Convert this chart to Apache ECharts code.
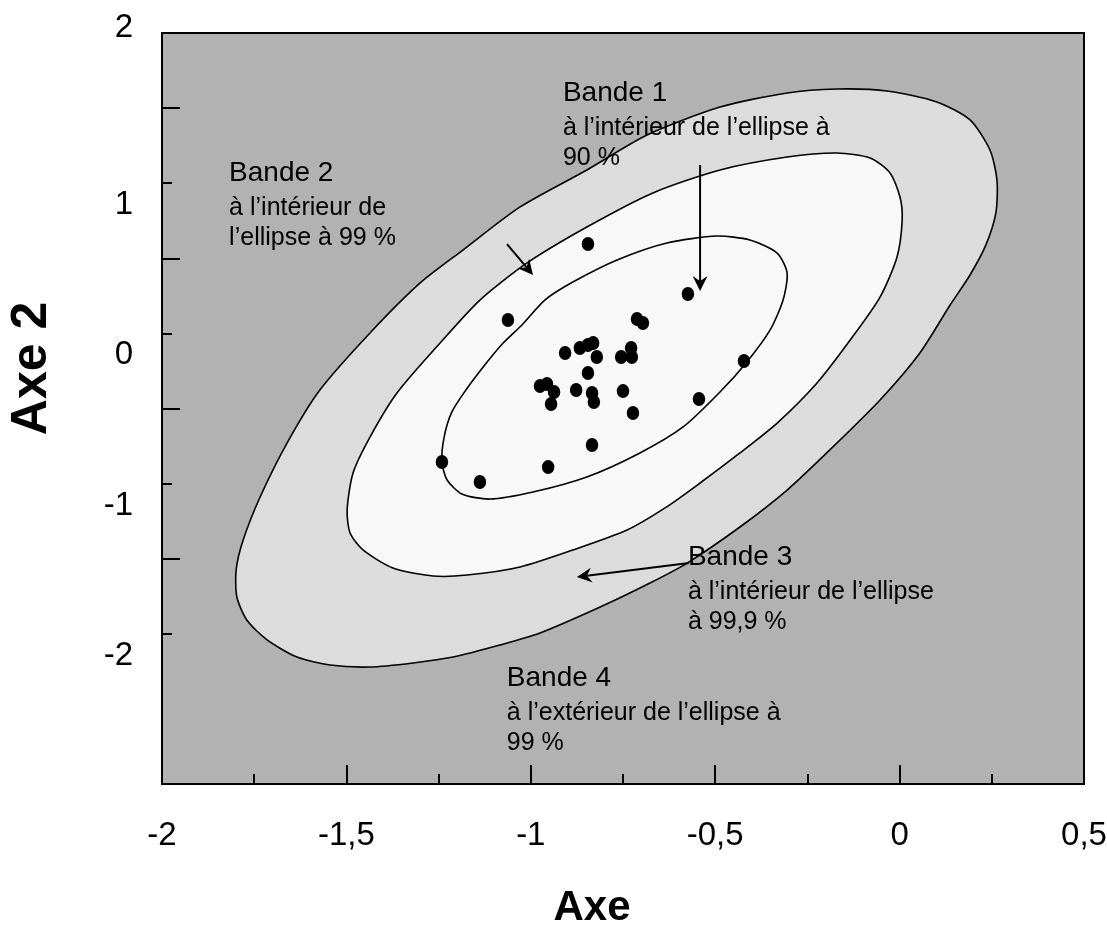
<!DOCTYPE html>
<html><head><meta charset="utf-8">
<script src="https://cdn.jsdelivr.net/npm/echarts@6/dist/echarts.min.js"></script>
<style>html,body{margin:0;padding:0;background:#fff}#c{width:1107px;height:927px}</style>
</head><body><div id="c"></div>
<script>
// ---- data ----
const xLabelValues = [-2, -1.5, -1, -0.5, 0, 0.5];
const yLabelValues = [1, 0, -1, -2];
const yTopLabelValues = [2];
const yShortTicks = [-2, -1, 0, 1];
const yLongTicks = [-1.5, -0.5, 0.5, 1.5];

const pointsX = [-0.845,-0.574,-1.062,-0.712,-0.696,-0.907,-0.867,-0.845,-0.831,-0.821,-0.728,-0.755,-0.726,-0.845,-0.975,-0.956,-0.937,-0.945,-0.877,-0.834,-0.829,-0.750,-0.723,-0.544,-0.422,-0.834,-0.953,-1.241,-1.138];
const pointsY = [0.595,0.262,0.089,0.096,0.069,-0.130,-0.097,-0.077,-0.064,-0.157,-0.097,-0.157,-0.157,-0.264,-0.350,-0.337,-0.390,-0.470,-0.377,-0.397,-0.457,-0.384,-0.530,-0.437,-0.184,-0.743,-0.890,-0.856,-0.989];

// ellipse 90 % (band 1 boundary)
const innerX = [-1.241,-1.235,-1.214,-1.176,-1.127,-1.075,-1.024,-0.962,-0.886,-0.766,-0.631,-0.495,-0.406,-0.332,-0.305,-0.316,-0.351,-0.414,-0.487,-0.587,-0.704,-0.848,-0.994,-1.111,-1.187,-1.227];
const innerY = [-0.856,-0.690,-0.523,-0.377,-0.217,-0.064,0.056,0.222,0.342,0.489,0.602,0.648,0.622,0.535,0.402,0.222,0.023,-0.190,-0.390,-0.623,-0.796,-0.956,-1.056,-1.103,-1.069,-0.976];
// ellipse 99 % (band 2 boundary)
const middleX = [-1.498,-1.482,-1.436,-1.363,-1.246,-1.138,-1.010,-0.848,-0.669,-0.487,-0.305,-0.170,-0.080,-0.026,0.001,0.007,-0.007,-0.053,-0.134,-0.224,-0.332,-0.433,-0.541,-0.636,-0.739,-0.886,-1.029,-1.173,-1.265,-1.374,-1.455,-1.490];
const middleY = [-1.176,-0.929,-0.690,-0.397,-0.064,0.222,0.469,0.708,0.935,1.088,1.174,1.201,1.168,1.068,0.908,0.755,0.509,0.242,-0.044,-0.330,-0.597,-0.796,-0.996,-1.162,-1.309,-1.442,-1.555,-1.609,-1.615,-1.562,-1.442,-1.329];
// ellipse 99.9 % (band 3 boundary)
const outerX = [-1.799,-1.780,-1.734,-1.661,-1.572,-1.436,-1.300,-1.184,-1.029,-0.848,-0.685,-0.487,-0.305,-0.170,-0.034,0.101,0.191,0.245,0.264,0.261,0.234,0.191,0.137,0.055,-0.053,-0.181,-0.305,-0.433,-0.576,-0.677,-0.812,-0.975,-1.084,-1.211,-1.319,-1.436,-1.544,-1.634,-1.715,-1.770,-1.797];
const outerY = [-1.575,-1.376,-1.089,-0.730,-0.377,0.003,0.336,0.555,0.842,1.088,1.321,1.507,1.601,1.627,1.614,1.541,1.421,1.221,1.021,0.802,0.589,0.389,0.189,-0.130,-0.443,-0.756,-1.043,-1.289,-1.529,-1.662,-1.822,-1.995,-2.075,-2.155,-2.194,-2.221,-2.208,-2.155,-2.041,-1.908,-1.755];

// annotations (top-left anchor of each text block, in data units)
const annTitles = ['Bande 1', 'Bande 2', 'Bande 3', 'Bande 4'];
const annLines = [
  ['à l’intérieur de l’ellipse à', '90 %'],
  ['à l’intérieur de', 'l’ellipse à 99 %'],
  ['à l’intérieur de l’ellipse', 'à 99,9 %'],
  ['à l’extérieur de l’ellipse à', '99 %']
];
const annX = [-0.913, -1.818, -0.574, -1.065];
const annY = [1.734, 1.201, -1.356, -2.161];

// arrows (start -> tip)
const arrowX0 = [-0.541, -1.0645, -0.571];
const arrowY0 = [1.121, 0.595, -1.529];
const arrowX1 = [-0.541, -0.994, -0.875];
const arrowY1 = [0.282, 0.389, -1.622];

// ---- chart ----
const FONT = '"Liberation Sans", Arial, Helvetica, sans-serif';
const fmt = v => String(v).replace('.', ',');

function polygonSeries(name, xs, ys, fill, z) {
  return {
    type: 'custom', name: name, coordinateSystem: 'cartesian2d', z: z, silent: true, clip: false,
    xAxisIndex: 0, yAxisIndex: 0,
    data: [[xs[0], ys[0]]],
    renderItem: function (params, api) {
      return {
        type: 'polygon',
        shape: { points: xs.map((x, i) => api.coord([x, ys[i]])), smooth: 0.25 },
        style: { fill: fill, stroke: '#000', lineWidth: 1.6 }
      };
    }
  };
}

const chart = echarts.init(document.getElementById('c'), null, { renderer: 'canvas' });
const option = {
  animation: false,
  backgroundColor: '#ffffff',
  grid: { left: 162, top: 33, right: 23, bottom: 143, show: true, backgroundColor: '#b2b2b2', borderColor: '#000', borderWidth: 2, containLabel: false, outerBoundsMode: 'none' },
  xAxis: {
    type: 'value', min: -2, max: 0.5, interval: 0.5,
    name: 'Axe', nameLocation: 'middle', nameGap: 103,
    nameTextStyle: { fontFamily: FONT, fontSize: 42, fontWeight: 'bold', color: '#000', padding: [0, 62, 0, 0] },
    axisLine: { show: true, onZero: false, lineStyle: { color: '#000', width: 2 } },
    axisTick: { show: true, inside: true, length: 19, lineStyle: { color: '#000', width: 2 } },
    minorTick: { show: true, splitNumber: 2, length: 10, lineStyle: { color: '#000', width: 2 } },
    splitLine: { show: false }, minorSplitLine: { show: false },
    axisLabel: { customValues: xLabelValues, fontFamily: FONT, fontSize: 33, color: '#000', margin: 35, formatter: fmt }
  },
  yAxis: [
    {
      type: 'value', min: -3, max: 2, interval: 1,
      name: 'Axe 2', nameLocation: 'middle', nameGap: 105, nameRotate: 90,
      nameTextStyle: { fontFamily: FONT, fontSize: 50, fontWeight: 'bold', color: '#000', padding: [0, 0, 0, 80] },
      axisLine: { show: true, onZero: false, lineStyle: { color: '#000', width: 2 } },
      axisTick: { show: true, inside: true, length: 10, customValues: yShortTicks, lineStyle: { color: '#000', width: 2 } },
      splitLine: { show: false },
      axisLabel: { customValues: yLabelValues, fontFamily: FONT, fontSize: 33, color: '#000', margin: 29, verticalAlign: 'top', lineHeight: 44, formatter: fmt }
    },
    {
      type: 'value', min: -3, max: 2, interval: 1, position: 'left', offset: 0,
      axisLine: { show: false, onZero: false },
      axisTick: { show: true, inside: true, length: 18, customValues: yLongTicks, lineStyle: { color: '#000', width: 2 } },
      splitLine: { show: false },
      axisLabel: { customValues: yTopLabelValues, fontFamily: FONT, fontSize: 33, color: '#000', margin: 29, verticalAlign: 'bottom', lineHeight: 10, formatter: fmt }
    }
  ],
  series: [
    polygonSeries('ellipse 99,9 %', outerX, outerY, '#dcdcdc', 2),
    polygonSeries('ellipse 99 %', middleX, middleY, '#f8f8f8', 3),
    polygonSeries('ellipse 90 %', innerX, innerY, '#f8f8f8', 4),
    {
      type: 'scatter', name: 'points', z: 6, silent: true,
      symbol: 'circle', symbolSize: [12.5, 14],
      itemStyle: { color: '#000', opacity: 1 },
      data: pointsX.map((x, i) => [x, pointsY[i]])
    },
    {
      type: 'custom', name: 'annotations', coordinateSystem: 'cartesian2d', z: 7, silent: true, clip: false,
      data: annX.map((x, i) => [x, annY[i]]),
      renderItem: function (params, api) {
        const i = params.dataIndex;
        const p = api.coord([annX[i], annY[i]]);
        const txt = '{b|' + annTitles[i] + '}\n' + annLines[i].map(s => '{s|' + s + '}').join('\n');
        return {
          type: 'text', x: p[0], y: p[1],
          style: {
            text: txt, fill: '#000', align: 'left', verticalAlign: 'top',
            fontFamily: FONT,
            rich: {
              b: { fontFamily: FONT, fontSize: 28, lineHeight: 40, fill: '#000', color: '#000' },
              s: { fontFamily: FONT, fontSize: 25, lineHeight: 30, fill: '#000', color: '#000' }
            }
          }
        };
      }
    },
    {
      type: 'custom', name: 'arrows', coordinateSystem: 'cartesian2d', z: 8, silent: true, clip: false,
      data: arrowX0.map((x, i) => [x, arrowY0[i]]),
      renderItem: function (params, api) {
        const i = params.dataIndex;
        const a = api.coord([arrowX0[i], arrowY0[i]]);
        const b = api.coord([arrowX1[i], arrowY1[i]]);
        const dx = b[0] - a[0], dy = b[1] - a[1];
        const L = Math.sqrt(dx * dx + dy * dy);
        const ux = dx / L, uy = dy / L, nx = -uy, ny = ux;
        const len = 15, hw = 7.5, notch = 5;
        const base = [b[0] - ux * len, b[1] - uy * len];
        const notchP = [b[0] - ux * (len - notch), b[1] - uy * (len - notch)];
        return {
          type: 'group',
          children: [
            { type: 'line', shape: { x1: a[0], y1: a[1], x2: notchP[0], y2: notchP[1] }, style: { stroke: '#000', lineWidth: 2 } },
            { type: 'polygon', shape: { points: [b, [base[0] + nx * hw, base[1] + ny * hw], notchP, [base[0] - nx * hw, base[1] - ny * hw]] }, style: { fill: '#000' } }
          ]
        };
      }
    }
  ]
};
chart.setOption(option);
</script>
</body></html>
